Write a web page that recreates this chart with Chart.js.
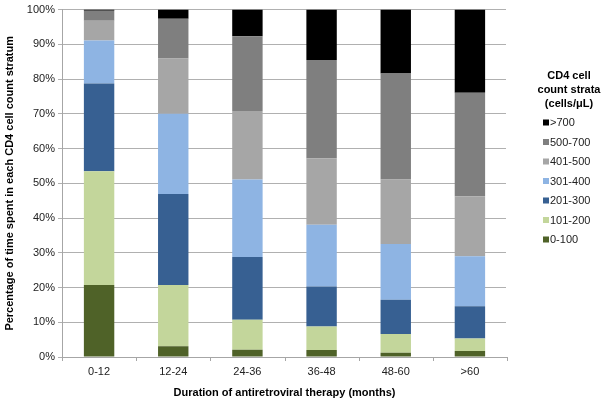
<!DOCTYPE html>
<html>
<head>
<meta charset="utf-8">
<script src="https://cdn.jsdelivr.net/npm/chart.js@4/dist/chart.umd.min.js"></script>
<style>
html,body{margin:0;padding:0;background:#fff;overflow:hidden;}
#wrap{width:604px;height:409px;position:relative;}
</style>
</head>
<body>
<div id="wrap"><canvas id="c" width="604" height="409"></canvas></div>
<script>
const categories = ['0-12','12-24','24-36','36-48','48-60','>60'];
const strata = ['0-100','101-200','201-300','301-400','401-500','500-700','>700'];
const s0_100   = [20.7, 3.1, 2.1, 2.0, 1.2, 1.7];
const s101_200 = [32.8, 17.6, 8.6, 6.8, 5.4, 3.6];
const s201_300 = [25.2, 26.2, 18.1, 11.5, 9.9, 9.3];
const s301_400 = [12.4, 23.1, 22.3, 17.8, 16.0, 14.4];
const s401_500 = [5.7, 15.9, 19.7, 19.1, 18.6, 17.3];
const s500_700 = [2.9, 11.5, 21.5, 28.3, 30.5, 29.8];
const s700     = [0.3, 2.6, 7.7, 14.5, 18.4, 23.9];
const yTicks = [0,10,20,30,40,50,60,70,80,90,100];
const legendTitle = ['CD4 cell','count strata','(cells/\u03BCL)'];
const seriesValues = [s0_100, s101_200, s201_300, s301_400, s401_500, s500_700, s700];
const colors = ['#4f6228','#c3d69b','#376092','#8eb4e3','#a6a6a6','#7f7f7f','#000000'];

const datasets = strata.map((name,i)=>({
  label: name,
  data: seriesValues[i],
  backgroundColor: colors[i],
  borderWidth: 0,
  barPercentage: 0.82,
  categoryPercentage: 0.5
}));

const axisColor = '#a6a6a6';

const xTickPlugin = {
  id: 'xTickMarks',
  afterDraw(chart){
    const ctx = chart.ctx, area = chart.chartArea;
    const n = chart.data.labels.length;
    ctx.save();
    // keep the right side of the plot open, as in the reference
    ctx.fillStyle = '#ffffff';
    ctx.fillRect(area.right - 1, area.top - 2, 4, area.bottom - area.top + 1);
    ctx.strokeStyle = axisColor;
    ctx.lineWidth = 1;
    ctx.beginPath();
    for (let i = 0; i <= n; i++){
      const px = Math.round(area.left + (area.right - area.left) * i / n) + 0.5;
      ctx.moveTo(px, area.bottom);
      ctx.lineTo(px, area.bottom + 4);
    }
    ctx.stroke();
    ctx.restore();
  }
};

const legendPlugin = {
  id: 'sideLegend',
  afterDraw(chart){
    const ctx = chart.ctx;
    ctx.save();
    ctx.fillStyle = '#000';
    ctx.font = 'bold 11px "Liberation Sans", Arial, sans-serif';
    ctx.textAlign = 'center';
    ctx.textBaseline = 'middle';
    legendTitle.forEach((t,i)=> ctx.fillText(t, 569, 76 + i*14));
    ctx.font = '11px "Liberation Sans", Arial, sans-serif';
    ctx.textAlign = 'left';
    const ds = chart.data.datasets;
    for (let k = 0; k < ds.length; k++){
      const d = ds[ds.length-1-k];
      const y = 122.5 + k*19.5;
      ctx.fillStyle = d.backgroundColor;
      ctx.fillRect(543, y-3, 6, 6);
      ctx.fillStyle = '#222';
      ctx.fillText(d.label, 550, y+0.5);
    }
    ctx.restore();
  }
};

new Chart(document.getElementById('c'), {
  type: 'bar',
  data: { labels: categories, datasets },
  options: {
    responsive: false,
    animation: false,
    layout: { padding: { left: 0, right: 97, top: 7, bottom: 0 } },
    plugins: { legend: { display: false }, tooltip: { enabled: false } },
    scales: {
      x: {
        stacked: true,
        grid: { display: false, drawTicks: true, tickLength: 4 },
        border: { display: true, color: axisColor },
        ticks: { color: '#222', padding: 4, font: { family: '"Liberation Sans", Arial, sans-serif', size: 11 } },
        title: { display: true, text: 'Duration of antiretroviral therapy (months)', color: '#000',
                 padding: { top: 0, bottom: 9 }, font: { family: '"Liberation Sans", Arial, sans-serif', size: 11, weight: 'bold' } },
        afterFit(s){ s.height = 52; }
      },
      y: {
        stacked: true,
        min: 0, max: 100,
        afterBuildTicks(s){ s.ticks = yTicks.map(v=>({value:v})); },
        grid: { color: '#b0b0b0', tickLength: 4, lineWidth: 1 },
        border: { display: true, color: axisColor },
        ticks: { color: '#222', padding: 3, font: { family: '"Liberation Sans", Arial, sans-serif', size: 11 },
                 callback: v => v + '%' },
        title: { display: true, text: 'Percentage of time spent in each CD4 cell count stratum', color: '#000',
                 padding: { top: 3, bottom: 0 }, font: { family: '"Liberation Sans", Arial, sans-serif', size: 11, weight: 'bold' } },
        afterFit(s){ s.width = 62; }
      }
    }
  },
  plugins: [xTickPlugin, legendPlugin]
});
</script>
</body>
</html>
